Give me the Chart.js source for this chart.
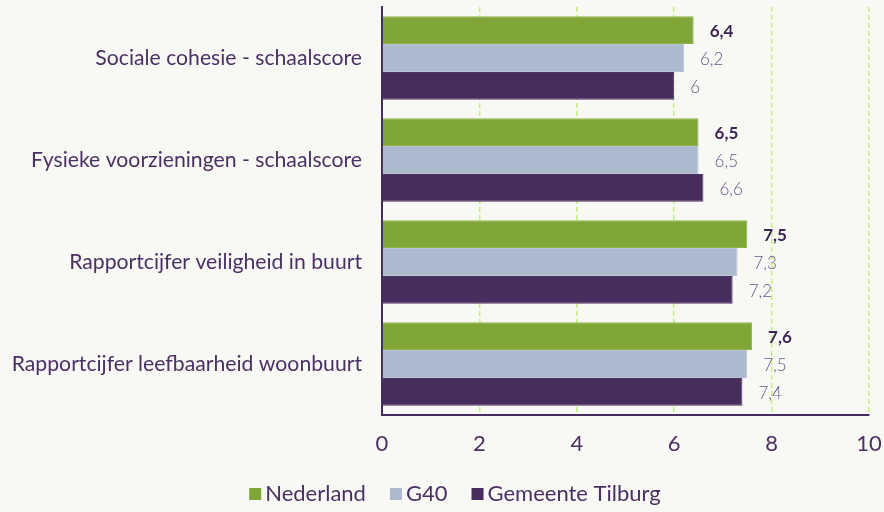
<!DOCTYPE html>
<html>
<head>
<meta charset="utf-8">
<script src="https://cdn.jsdelivr.net/npm/chart.js@4/dist/chart.umd.min.js"></script>
<style>
  html, body { margin: 0; padding: 0; background: #f8f8f4; }
  #wrap { width: 884px; height: 512px; }
</style>
</head>
<body>
<div id="wrap"><canvas id="c" width="884" height="512"></canvas></div>
<script>
// Indicator names (y axis)
const categories = [
  'Sociale cohesie - schaalscore',
  'Fysieke voorzieningen - schaalscore',
  'Rapportcijfer veiligheid in buurt',
  'Rapportcijfer leefbaarheid woonbuurt'
];
// Scores per area
const nederland = [6.4, 6.5, 7.5, 7.6];
const g40 = [6.2, 6.5, 7.3, 7.5];
const tilburg = [6.0, 6.6, 7.2, 7.4];
// Horizontal axis ticks
const xTicks = [0, 2, 4, 6, 8, 10];

const PURPLE = '#472c5e';
const TEXT = '#4a3163';
const FONT = 'Lato, "Open Sans", sans-serif';

// Writes the value next to the end of every bar, Dutch decimal comma
const valueLabels = {
  id: 'valueLabels',
  afterDatasetsDraw(chart) {
    const ctx = chart.ctx;
    ctx.save();
    ctx.textBaseline = 'middle';
    ctx.textAlign = 'left';
    chart.data.datasets.forEach((ds, di) => {
      const meta = chart.getDatasetMeta(di);
      meta.data.forEach((bar, i) => {
        const txt = String(ds.data[i]).replace('.', ',');
        if (di === 0) {
          ctx.font = 'bold 17px ' + FONT;
          ctx.fillStyle = '#3b2552';
        } else {
          ctx.font = '300 17px ' + FONT;
          ctx.fillStyle = '#6a5686';
        }
        ctx.fillText(txt, bar.x + 16, bar.y + 1.5);
      });
    });
    ctx.restore();
  }
};

// Compact legend row under the axis: small square, short gap, label
const bottomLegend = {
  id: 'bottomLegend',
  afterDraw(chart) {
    const ctx = chart.ctx;
    const box = 12, gap = 4, spacing = 24, centerX = 455, y = 494;
    ctx.save();
    ctx.font = '22px ' + FONT;
    ctx.textBaseline = 'middle';
    ctx.textAlign = 'left';
    const items = chart.data.datasets.map(ds => ({
      label: ds.label, color: ds.backgroundColor, w: ctx.measureText(ds.label).width
    }));
    const total = items.reduce((s, it) => s + box + gap + it.w, 0) + spacing * (items.length - 1);
    let x = centerX - total / 2;
    items.forEach(it => {
      ctx.fillStyle = it.color;
      ctx.fillRect(x, y - box / 2, box, box);
      ctx.fillStyle = TEXT;
      ctx.fillText(it.label, x + box + gap, y);
      x += box + gap + it.w + spacing;
    });
    ctx.restore();
  }
};

new Chart(document.getElementById('c'), {
  type: 'bar',
  data: {
    labels: categories,
    datasets: [
      { label: 'Nederland', data: nederland, backgroundColor: '#7fa637', borderColor: '#8fb24c', borderWidth: 1 },
      { label: 'G40', data: g40, backgroundColor: '#adb9cc', borderColor: '#b8c2d3', borderWidth: 1 },
      { label: 'Gemeente Tilburg', data: tilburg, backgroundColor: '#472c5e', borderColor: '#4f3566', borderWidth: 1 }
    ]
  },
  options: {
    indexAxis: 'y',
    responsive: false,
    animation: false,
    devicePixelRatio: 1,
    layout: { padding: { top: 7, right: 15, left: 0, bottom: 0 } },
    datasets: { bar: { categoryPercentage: 0.82, barPercentage: 1.0 } },
    scales: {
      x: {
        min: 0, max: 10,
        afterBuildTicks(scale) { scale.ticks = xTicks.map(v => ({ value: v })); },
        ticks: { color: TEXT, font: { family: FONT, size: 22 }, padding: 16 },
        grid: { color: '#c2f27e', lineWidth: 1.5, drawTicks: false, tickLength: 0 },
        border: { color: PURPLE, width: 2, dash: [5, 3] },
        afterFit(scale) {
          scale.height = 97;
          scale.paddingLeft = 0;
          scale.paddingRight = 0;
        }
      },
      y: {
        ticks: { color: TEXT, font: { family: FONT, size: 21.2 }, padding: 20 },
        grid: { display: false, drawTicks: false },
        border: { color: PURPLE, width: 2 },
        afterFit(scale) {
          scale.width = 382;
          scale.paddingTop = 0;
          scale.paddingBottom = 0;
        }
      }
    },
    plugins: {
      legend: { display: false },
      tooltip: { enabled: false }
    }
  },
  plugins: [valueLabels, bottomLegend]
});
</script>
</body>
</html>
